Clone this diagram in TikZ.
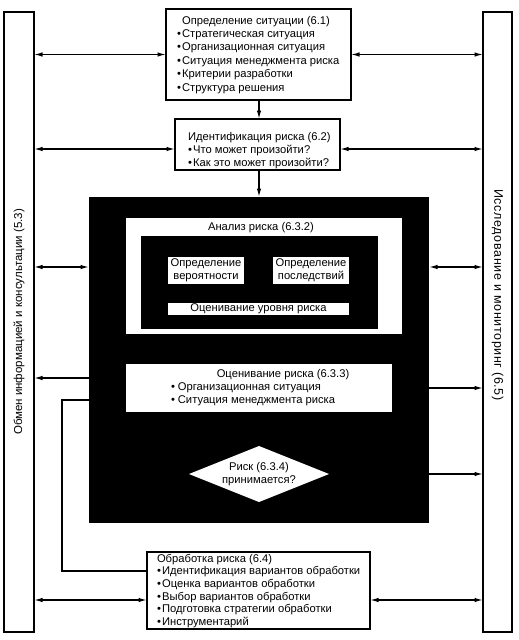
\documentclass[tikz,border=0pt]{standalone}
\usepackage{fontspec}
\setmainfont{Liberation Sans}
\usetikzlibrary{arrows.meta,shapes.geometric}
\newcommand\bul{\textbullet\hspace{1.2pt}}
\newcommand\nob{\hphantom{\bul}}
\begin{document}
\begin{tikzpicture}[x=1pt,y=-1pt,
  box/.style={draw,line width=1.8pt,fill=white,inner sep=0pt,outer sep=0pt},
  wbox/.style={fill=white,inner sep=0pt,outer sep=0pt},
  arr/.style={line width=1.3pt,-{Latex[length=8.5pt,width=4.5pt]}},
  dbl/.style={line width=1.3pt,{Latex[length=8.5pt,width=4.5pt]}-{Latex[length=8.5pt,width=4.5pt]}},
  line/.style={line width=1.3pt},
  txt/.style={font=\fontsize{11.2}{13.4}\selectfont, align=left, inner sep=0pt, outer sep=0pt},
  ctxt/.style={font=\fontsize{11.2}{13.2}\selectfont, align=center, inner sep=0pt, outer sep=0pt}
]
\useasboundingbox (0,0) rectangle (519,640);
% side columns
\node[box, minimum width=30, minimum height=620] (lcol) at (19,322) {};
\node[box, minimum width=29, minimum height=620] (rcol) at (497.5,322) {};
\node[inner sep=0pt, font=\fontsize{11.5}{13}\selectfont, rotate=90] (ltxt) at (19,322) {Обмен информацией и консультации (5.3)};
\node[inner sep=0pt, font=\fontsize{12.5}{14}\selectfont\addfontfeature{LetterSpace=5}, rotate=-90] (rtxt) at (497.5,295) {Исследование и мониторинг (6.5)};
% top box
\node[box, minimum width=185, minimum height=91] (top) at (258.5,54.5) {};
\node[txt, anchor=north west] (toptxt) at (177,16) {\nob Определение ситуации (6.1)\\
\bul Стратегическая ситуация\\
\bul Организационная ситуация\\
\bul Ситуация менеджмента риска\\
\bul Критерии разработки\\
\bul Структура решения};
% identification
\node[box, minimum width=165, minimum height=51] (ident) at (257.5,144.5) {};
\node[txt, font=\fontsize{11.2}{13}\selectfont, anchor=north west] (identtxt) at (188,132) {Идентификация риска (6.2)\\
\bul Что может произойти?\\
\bul Как это может произойти?};
% big black box
\node[fill=black, inner sep=0pt, outer sep=0pt, minimum width=340, minimum height=326] (blk) at (259,360) {};
\node[wbox, minimum width=276, minimum height=116] (anal) at (264,276) {};
\node[ctxt] (analtxt) at (261,228) {Анализ риска (6.3.2)};
\node[fill=black, inner sep=0pt, outer sep=0pt, minimum width=237, minimum height=93] (iblk) at (259.5,282.5) {};
\node[wbox, ctxt, minimum width=76, minimum height=27] (prob) at (206,270.5) {Определение\\вероятности};
\node[wbox, ctxt, minimum width=76, minimum height=27] (cons) at (311,270.5) {Определение\\последствий};
\node[wbox, ctxt, minimum width=181, minimum height=12] (lvl) at (258.5,309) {Оценивание уровня риска};
\node[wbox, minimum width=266, minimum height=48] (eval) at (259,388) {};
\node[ctxt] (evaltitle) at (283,375) {Оценивание риска (6.3.3)};
\node[txt, font=\fontsize{11.2}{13}\selectfont, anchor=north west] (evaltxt) at (171,383) {\textbullet\hspace{3pt}Организационная ситуация\\
\textbullet\hspace{3pt}Ситуация менеджмента риска};
\node[diamond, fill=white, aspect=2.5, inner sep=0pt, outer sep=0pt, minimum width=140, minimum height=56, ctxt] (dia) at (259,474) {Риск (6.3.4)\\принимается?};
% treatment
\node[box, minimum width=223, minimum height=77] (treat) at (258.5,590.5) {};
\node[txt, font=\fontsize{11.2}{12.6}\selectfont, anchor=north west] (treattxt) at (157,554) {Обработка риска (6.4)\\
\bul Идентификация вариантов обработки\\
\bul Оценка вариантов обработки\\
\bul Выбор вариантов обработки\\
\bul Подготовка стратегии обработки\\
\bul Инструментарий};
% coordinates
\coordinate (y2) at (0,149);
\coordinate (y3) at (0,267);
\coordinate (y4) at (0,378);
\coordinate (y6) at (0,400);
\coordinate (c1) at (62,571);
\coordinate (y8) at (0,600);
% connectors
\draw[dbl] (lcol.east |- top.west) -- (top.west);
\draw[dbl] (top.east) -- (top.east -| rcol.west);
\draw[dbl] (lcol.east |- y2) -- (ident.west |- y2);
\draw[dbl] (ident.east |- y2) -- (rcol.west |- y2);
\draw[arr] (top.south -| blk.center) -- (ident.north -| blk.center);
\draw[arr] (ident.south -| blk.center) -- (blk.north);
\draw[dbl] (lcol.east |- y3) -- (blk.west |- y3);
\draw[dbl] (blk.east |- y3) -- (rcol.west |- y3);
\draw[arr] (blk.west |- y4) -- (lcol.east |- y4);
\draw[arr] (blk.east |- eval.east) -- (rcol.west |- eval.east);
\draw[arr] (blk.east |- dia.east) -- (rcol.west |- dia.east);
\draw[line] (blk.west |- y6) -| (c1) -- (c1 -| treat.west);
\draw[dbl] (lcol.east |- y8) -- (treat.west |- y8);
\draw[dbl] (treat.east |- y8) -- (rcol.west |- y8);
\end{tikzpicture}
\end{document}
